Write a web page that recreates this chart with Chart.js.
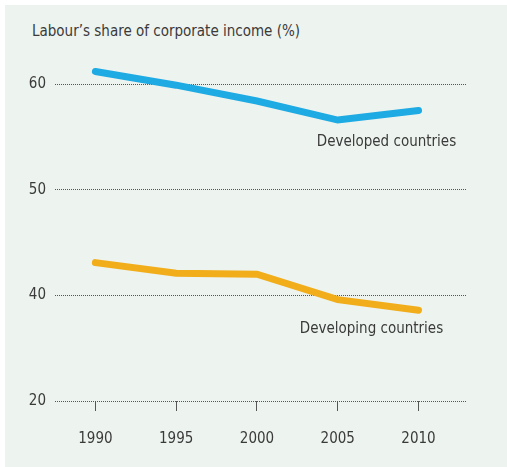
<!DOCTYPE html>
<html>
<head>
<meta charset="utf-8">
<script src="https://cdn.jsdelivr.net/npm/chart.js@4"></script>
<style>
  html, body { margin:0; padding:0; background:#fff; }
  #panel { position:absolute; left:5px; top:5px; width:502px; height:462px; background:#edf3ef; }
  #title { position:absolute; left:32px; top:22px; font-family:'DejaVu Sans Condensed',sans-serif; font-size:15px; color:#3a3a3a; white-space:nowrap; }
  #wrap { position:absolute; left:0; top:0; width:507px; height:467px; }
</style>
</head>
<body>
<div id="panel"></div>
<div id="title">Labour’s share of corporate income (%)</div>
<div id="wrap"><canvas id="chart"></canvas></div>
<script>
// Datos
const years = [1990, 1995, 2000, 2005, 2010];
const developed = [61.2, 59.9, 58.4, 56.6, 57.5];
const developing = [43.1, 42.1, 42.0, 39.6, 38.6];
const yTickValues = [30, 40, 50, 60];
const yTickLabels = ['20', '40', '50', '60'];   // eje cortado: la linea de abajo se rotula 20
const seriesNames = ['Developed countries', 'Developing countries'];

const FONT = "'DejaVu Sans Condensed',sans-serif";
const TXT = '#3a3a3a';

// etiquetas de las series junto a las lineas
const seriesLabels = {
  id: 'seriesLabels',
  afterDatasetsDraw(chart, args, opts) {
    const {ctx, scales:{x, y}} = chart;
    ctx.save();
    ctx.font = '15px ' + FONT;
    ctx.fillStyle = TXT;
    ctx.textBaseline = 'middle';
    ctx.textAlign = 'left';
    opts.items.forEach(it => {
      ctx.fillText(it.text, x.getPixelForValue(it.x), y.getPixelForValue(it.y));
    });
    ctx.restore();
  }
};

new Chart(document.getElementById('chart'), {
  type: 'line',
  data: {
    labels: years,
    datasets: [
      { data: years.map((yr, i) => ({x: yr, y: developed[i]})), borderColor: '#1eaae3', borderWidth: 7,
        pointRadius: 0, borderCapStyle: 'round', tension: 0 },
      { data: years.map((yr, i) => ({x: yr, y: developing[i]})), borderColor: '#f2ad1b', borderWidth: 7,
        pointRadius: 0, borderCapStyle: 'round', tension: 0 }
    ]
  },
  options: {
    responsive: true,
    maintainAspectRatio: false,
    animation: false,
    layout: { padding: { top: 63, right: 40, left: 0, bottom: 0 } },
    plugins: {
      legend: { display: false },
      tooltip: { enabled: false },
      seriesLabels: {
        items: [
          { text: seriesNames[0], x: 2003.7, y: 54.5 },
          { text: seriesNames[1], x: 2002.65, y: 36.8 }
        ]
      }
    },
    scales: {
      x: {
        type: 'linear',
        min: 1987.5,
        max: 2013,
        afterBuildTicks: s => { s.ticks = years.map(v => ({value: v})); },
        afterFit: s => { s.height = 66; },
        grid: { drawOnChartArea: false, drawTicks: true, tickLength: 10, tickColor: '#555', tickWidth: 1 },
        border: { display: false },
        ticks: { color: TXT, font: { family: FONT, size: 15 }, padding: 19, maxRotation: 0,
                 callback: v => String(v) }
      },
      y: {
        min: 30,
        max: 62,
        afterBuildTicks: s => { s.ticks = yTickValues.map(v => ({value: v})); },
        afterFit: s => { s.width = 55; },
        grid: { color: '#555', lineWidth: 1, drawTicks: false },
        border: { display: false, dash: [1, 1] },
        ticks: { color: TXT, font: { family: FONT, size: 15 }, padding: 9,
                 callback: v => yTickLabels[yTickValues.indexOf(v)] }
      }
    }
  },
  plugins: [seriesLabels]
});
</script>
</body>
</html>
